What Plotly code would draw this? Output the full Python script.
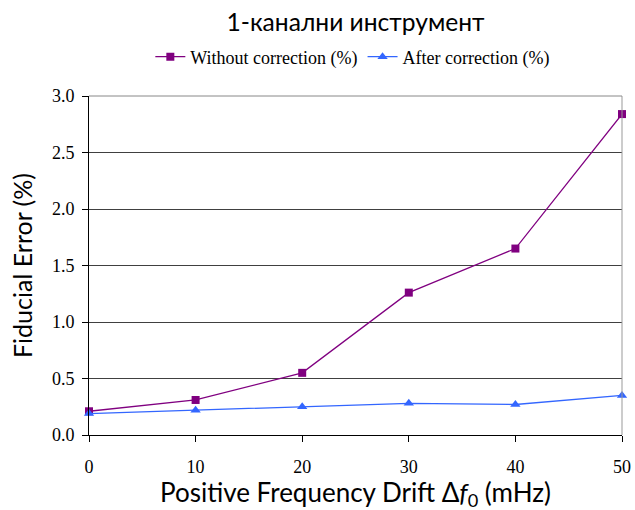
import plotly.graph_objects as go

drift = [0, 10, 20, 30, 40, 50]
without_corr = [0.21, 0.31, 0.55, 1.26, 1.65, 2.84]
after_corr = [0.19, 0.22, 0.25, 0.28, 0.27, 0.35]
yticks = [0.0, 0.5, 1.0, 1.5, 2.0, 2.5, 3.0]
ytick_labels = ["0.0", "0.5", "1.0", "1.5", "2.0", "2.5", "3.0"]
xticks = [0, 10, 20, 30, 40, 50]
x_title = "Positive Frequency Drift Δ<i>f</i><sub>0</sub> (mHz)"

fig = go.Figure()
fig.add_trace(go.Scatter(
    x=drift, y=without_corr, mode="lines+markers", name="Without correction (%)",
    line=dict(color="#800080", width=1.3),
    marker=dict(symbol="square", size=8, color="#800080"),
    cliponaxis=False,
))
fig.add_trace(go.Scatter(
    x=drift, y=after_corr, mode="lines+markers", name="After correction (%)",
    line=dict(color="#3366FF", width=1.3),
    marker=dict(symbol="triangle-up", size=9, color="#3366FF"),
    cliponaxis=False,
))

fig.update_layout(
    width=635, height=510,
    margin=dict(l=89, r=13, t=96, b=75, autoexpand=False),
    paper_bgcolor="white", plot_bgcolor="white",
    title=dict(text="1-канални инструмент", x=0.5, xanchor="center", xref="paper",
               y=0.957, yanchor="middle",
               font=dict(family="Lato", size=24.6, color="black")),
    legend=dict(orientation="h", x=0.495, xanchor="center", y=1.115, yanchor="middle",
                font=dict(family="Liberation Serif", size=18, color="black"),
                itemwidth=30, tracegroupgap=0, bgcolor="rgba(0,0,0,0)"),
    showlegend=True,
    xaxis=dict(range=[0, 50], tickvals=xticks, ticks="outside", ticklen=6, tickcolor="black",
               showline=True, linecolor="black", linewidth=1, mirror=False, showgrid=False,
               zeroline=False, automargin=False, ticklabelstandoff=9,
               tickfont=dict(family="Liberation Serif", size=18, color="black")),
    yaxis=dict(range=[0, 3.0], tickvals=yticks, ticktext=ytick_labels, ticks="outside", ticklen=6,
               tickcolor="black", showline=True, linecolor="black", linewidth=1,
               showgrid=True, gridcolor="#404040", gridwidth=1, zeroline=False,
               automargin=False, ticklabelstandoff=4,
               tickfont=dict(family="Liberation Serif", size=18, color="black"),
               title=dict(text="Fiducial Error (%)",
                          font=dict(family="Lato", size=25, color="black"), standoff=12)),
)
fig.add_annotation(text=x_title, xref="paper", yref="paper", x=0.5, y=0,
                   xanchor="center", yanchor="middle", yshift=-58, showarrow=False,
                   font=dict(family="Lato", size=26, color="black"))
# right and top border in gray
fig.add_shape(type="line", xref="paper", yref="paper", x0=1, x1=1, y0=0, y1=1,
              line=dict(color="#999999", width=1))
fig.add_shape(type="line", xref="paper", yref="paper", x0=0, x1=1, y0=1, y1=1,
              line=dict(color="#888888", width=1))

fig.write_html(
    "out.html",
    config={"displayModeBar": False},
    post_script="document.body.style.margin='0';document.body.style.overflow='hidden';",
)
